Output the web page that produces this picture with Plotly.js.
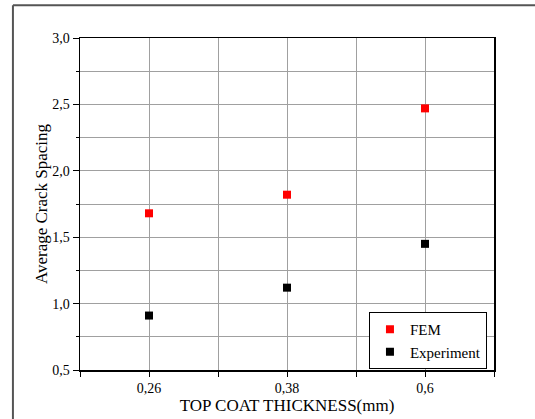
<!DOCTYPE html>
<html>
<head>
<meta charset="utf-8">
<script src="https://cdn.plot.ly/plotly-3.0.1.min.js"></script>
<style>html,body{margin:0;padding:0;background:#fff;}#chart{width:535px;height:419px;}</style>
</head>
<body>
<div id="chart"></div>
<script>
const categories = ['0,26', '0,38', '0,6'];
const categoryPos = [1, 2, 3];
const femValues = [1.68, 1.82, 2.47];
const expValues = [0.91, 1.12, 1.45];
const xTickVals = [0.5, 1, 1.5, 2, 2.5, 3, 3.5];
const xTickText = ['', '0,26', '', '0,38', '', '0,6', ''];
const yTickVals = [0.5, 1.0, 1.5, 2.0, 2.5, 3.0];

const font = 'Liberation Serif';

const traces = [
  {x: categoryPos, y: femValues, name: 'FEM', mode: 'markers', type: 'scatter',
   marker: {symbol: 'square', size: 8, color: '#ff0000'}},
  {x: categoryPos, y: expValues, name: 'Experiment', mode: 'markers', type: 'scatter',
   marker: {symbol: 'square', size: 8, color: '#000000'}}
];

const layout = {
  width: 535, height: 419,
  margin: {l: 80, r: 41, t: 38, b: 49},
  paper_bgcolor: '#fff', plot_bgcolor: '#fff',
  separators: ', ',
  font: {family: font, size: 13, color: '#000'},
  showlegend: true,
  legend: {x: 0.983, y: 0.003, xanchor: 'right', yanchor: 'bottom',
           bordercolor: '#000', borderwidth: 1, bgcolor: '#fff',
           font: {family: font, size: 15}, tracegroupgap: 0},
  xaxis: {range: [0.5, 3.5], tickmode: 'array', tickvals: xTickVals, ticktext: xTickText,
          showline: true, linecolor: '#000', linewidth: 1.5, mirror: true,
          ticks: 'outside', ticklen: 5, tickcolor: '#000',
          showgrid: true, gridcolor: '#a0a0a0', gridwidth: 1, zeroline: false,
          tickfont: {family: font, size: 14},
          title: {text: 'TOP COAT THICKNESS(mm)', font: {family: font, size: 17}, standoff: 4}},
  yaxis: {range: [0.5, 3.0], tickmode: 'array', tickvals: yTickVals, tickformat: '.1f',
          showline: true, linecolor: '#000', linewidth: 1.5, mirror: true,
          ticks: 'outside', ticklen: 6, tickcolor: '#000',
          showgrid: true, gridcolor: '#a0a0a0', gridwidth: 1, zeroline: false,
          minor: {dtick: 0.25, tick0: 0.5, ticks: 'outside', ticklen: 3, tickcolor: '#000', showgrid: true, gridcolor: '#a0a0a0'},
          tickfont: {family: font, size: 14},
          title: {text: 'Average Crack Spacing', font: {family: font, size: 17}, standoff: 0}},
  shapes: [
    {type: 'line', xref: 'paper', yref: 'paper', x0: -0.162, x1: -0.162, y0: 1.099, y1: -0.16,
     line: {color: '#555', width: 2}},
    {type: 'line', xref: 'paper', yref: 'paper', x0: -0.162, x1: 1.11, y0: 1.099, y1: 1.099,
     line: {color: '#555', width: 2}}
  ]
};

Plotly.newPlot('chart', traces, layout, {displayModeBar: false, staticPlot: true});
</script>
</body>
</html>
